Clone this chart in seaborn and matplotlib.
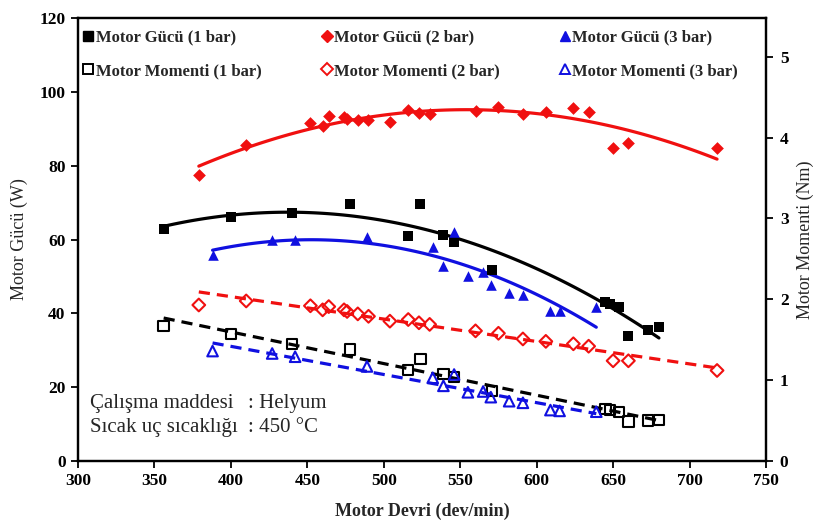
import numpy as np
import pandas as pd
import matplotlib
matplotlib.use('Agg')
from matplotlib import pyplot as plt
from matplotlib.lines import Line2D
import seaborn as sns

# data
rpm_1 = [356, 400, 440, 478, 516, 524, 539, 546, 571, 645, 648, 654, 660, 673, 680]
guc_1 = [62.8, 66.2, 67.2, 69.6, 61.0, 69.6, 61.2, 59.3, 51.7, 43.0, 42.6, 41.7, 33.9, 35.5, 36.3]
mom_1 = [1.67, 1.57, 1.45, 1.38, 1.13, 1.26, 1.08, 1.04, 0.87, 0.64, 0.63, 0.61, 0.49, 0.50, 0.51]

rpm_2 = [379, 410, 452, 460, 464, 474, 476, 483, 490, 504, 516, 523, 530, 560,
         575, 591, 606, 624, 634, 650, 660, 718]
guc_2 = [77.5, 85.6, 91.5, 90.7, 93.4, 93.2, 92.6, 92.4, 92.4, 91.8, 95.0, 94.2, 94.0, 94.8,
         95.9, 94.0, 94.5, 95.6, 94.5, 84.8, 86.1, 84.8]
mom_2 = [1.93, 1.98, 1.92, 1.87, 1.91, 1.87, 1.85, 1.82, 1.79, 1.73, 1.75, 1.71, 1.69, 1.61,
         1.58, 1.51, 1.48, 1.45, 1.42, 1.24, 1.24, 1.12]

rpm_3 = [388, 427, 442, 489, 532, 539, 546, 555, 565, 570, 582, 591, 609, 615, 639]
guc_3 = [55.8, 59.9, 59.9, 60.7, 58.0, 52.8, 62.0, 50.0, 51.2, 47.7, 45.5, 45.0, 40.6, 40.6, 41.7]
mom_3 = [1.36, 1.33, 1.29, 1.17, 1.03, 0.93, 1.07, 0.85, 0.86, 0.79, 0.74, 0.72, 0.63, 0.62, 0.61]

labels_guc = ['Motor Gücü (1 bar)', 'Motor Gücü (2 bar)', 'Motor Gücü (3 bar)']
labels_mom = ['Motor Momenti (1 bar)', 'Motor Momenti (2 bar)', 'Motor Momenti (3 bar)']
note_keys = ['Çalışma maddesi', 'Sıcak uç sıcaklığı']
note_vals = [': Helyum', ': 450 °C']

COLORS = ['black', '#f01010', '#1010e0']
MARKERS = ['s', 'D', '^']
SIZES = [55, 42, 58]

sns.set_style('ticks')
plt.rcParams['font.family'] = ['Liberation Serif', 'DejaVu Serif']

fig = plt.figure(figsize=(8.18, 5.31), dpi=100)
ax = fig.add_axes([0.0954, 0.1318, 0.8410, 0.8343])
ax2 = ax.twinx()

series = [(rpm_1, guc_1, mom_1), (rpm_2, guc_2, mom_2), (rpm_3, guc_3, mom_3)]
for (rpm, guc, mom), c, m, s in zip(series, COLORS, MARKERS, SIZES):
    # power: filled markers, 2nd order trend
    sns.regplot(x=rpm, y=guc, order=2, ci=None, scatter=False, truncate=True, ax=ax,
                line_kws=dict(color=c, lw=2.3))
    sns.scatterplot(x=rpm, y=guc, marker=m, s=s, color=c, edgecolor=c, linewidth=0, ax=ax, zorder=3)
    # torque: open markers, linear trend
    sns.regplot(x=rpm, y=mom, order=1, ci=None, scatter=False, truncate=True, ax=ax2,
                line_kws=dict(color=c, lw=2.3, dashes=(3.5, 2.2)))
    ax2.scatter(rpm, mom, marker=m, s=s, facecolors='none', edgecolors=c, linewidths=1.5, zorder=3)

ax.set_xlim(300, 750)
ax.set_ylim(0, 120)
ax2.set_ylim(0, 5.48)
ax.set_xticks(np.arange(300, 751, 50))
ax.set_yticks(np.arange(0, 121, 20))
ax2.set_yticks(np.arange(0, 6, 1))

for a in (ax, ax2):
    for sp in a.spines.values():
        sp.set_visible(True)
        sp.set_linewidth(1.6)
        sp.set_color('black')
    a.tick_params(direction='out', length=5, width=1.3, labelsize=12.5, colors='black')
    for t in a.get_xticklabels() + a.get_yticklabels():
        t.set_fontweight('bold')
ax.tick_params(axis='y', pad=4)
ax2.tick_params(axis='y', pad=5)

ax.set_xlabel('Motor Devri (dev/min)', fontsize=13, fontweight='bold', labelpad=10)
ax.set_ylabel('Motor Gücü (W)', fontsize=13, labelpad=8)
ax2.set_ylabel('Motor Momenti (Nm)', fontsize=13, labelpad=6)

# legend: power on first row, torque on second
handles = []
for c, m, lg, lm in zip(COLORS, MARKERS, labels_guc, labels_mom):
    handles.append(Line2D([], [], linestyle='', marker=m, color=c, markersize=6.5, label=lg))
    handles.append(Line2D([], [], linestyle='', marker=m, markerfacecolor='none',
                          markeredgecolor=c, markeredgewidth=1.4, markersize=6.5, label=lm))
ax.legend(handles=handles, ncol=3, loc='upper left', bbox_to_anchor=(-0.014, 1.008), frameon=False,
          prop=dict(weight='bold', size=12), handlelength=0.6, handletextpad=0.15,
          columnspacing=3.6, labelspacing=1.05)

for i, (k, v) in enumerate(zip(note_keys, note_vals)):
    y = 15.5 - i * 6.4
    ax.text(308, y, k, fontsize=15, va='center', ha='left')
    ax.text(411, y, v, fontsize=15, va='center', ha='left')

fig.savefig('out.png', dpi=100)
